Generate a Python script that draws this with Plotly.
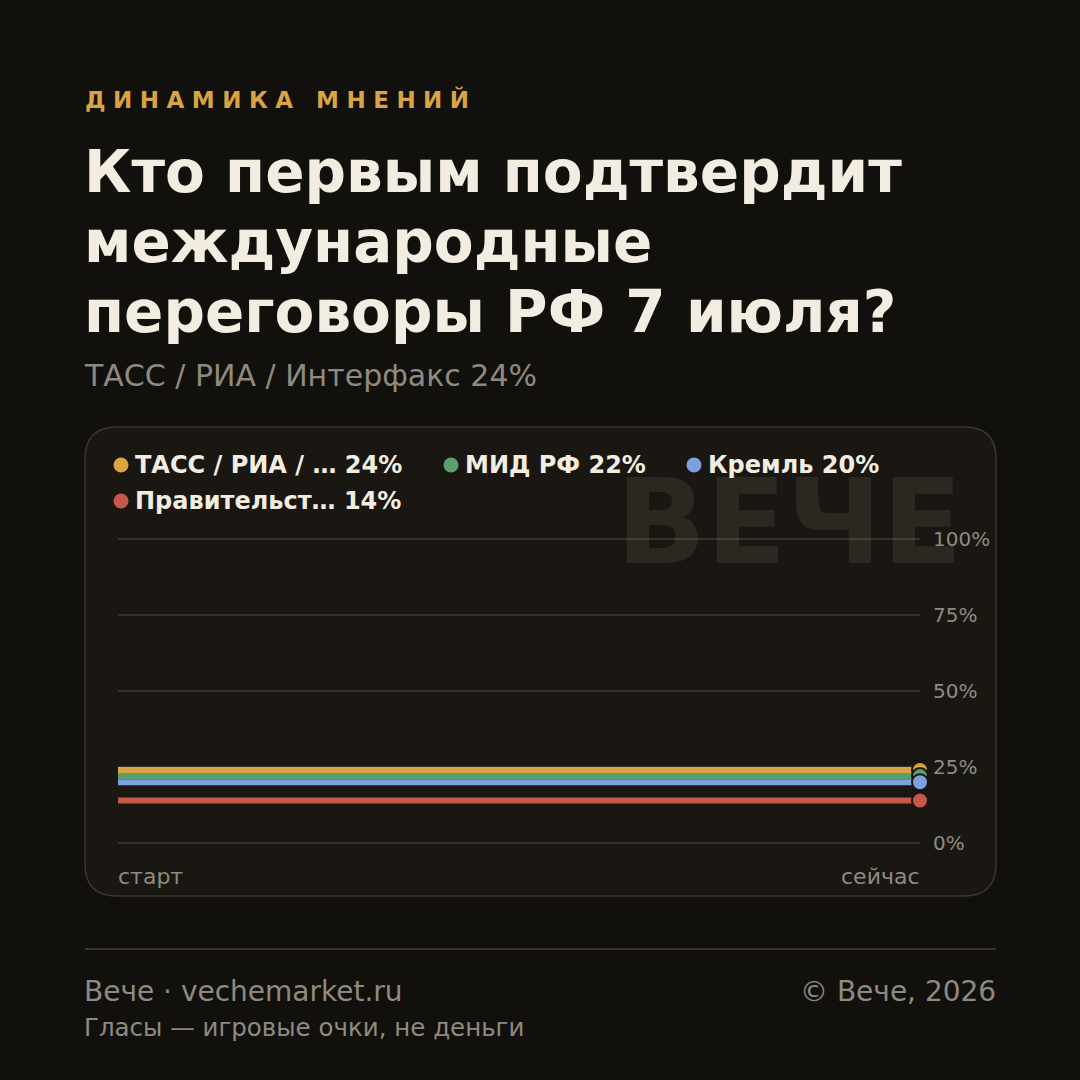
import plotly.graph_objects as go

# ---- data ----
series_names = ["ТАСС / РИА / Интерфакс", "МИД РФ", "Кремль", "Правительство"]
legend_labels = ["ТАСС / РИА / … 24%", "МИД РФ 22%", "Кремль 20%", "Правительст… 14%"]
series_values = [24, 22, 20, 14]
series_colors = ["#d9a441", "#5b9f6e", "#7da0e0", "#c6574b"]
x_points = [0, 1]
x_labels = ["старт", "сейчас"]
y_ticks = [0, 25, 50, 75, 100]
y_ticktext = ["0%", "25%", "50%", "75%", "100%"]

W = H = 1080
BG = "#12100d"
CARD = "#1a1713"
CARD_BORDER = "#3a352d"
GRID = "#36322b"
MUTED = "#8f8a80"
TEXT = "#f2ede0"
FONT = "DejaVu Sans"

def px(x):
    return x / W

def py(y):
    return 1 - y / H

fig = go.Figure()

for name, v, c in zip(series_names, series_values, series_colors):
    fig.add_trace(go.Scatter(
        x=x_points, y=[v] * len(x_points), mode="lines", name=name,
        line=dict(color=c, width=6), cliponaxis=False, showlegend=False,
        hoverinfo="skip"))
    fig.add_trace(go.Scatter(
        x=[x_points[-1]], y=[v], mode="markers", name=name,
        marker=dict(color=c, size=16, line=dict(color=CARD, width=2)),
        cliponaxis=False, showlegend=False))

# card with rounded corners
x0, x1, y0, y1, r = 85, 996, 427, 896, 32
path = (f"M {px(x0+r)},{py(y0)} L {px(x1-r)},{py(y0)} Q {px(x1)},{py(y0)} {px(x1)},{py(y0+r)} "
        f"L {px(x1)},{py(y1-r)} Q {px(x1)},{py(y1)} {px(x1-r)},{py(y1)} "
        f"L {px(x0+r)},{py(y1)} Q {px(x0)},{py(y1)} {px(x0)},{py(y1-r)} "
        f"L {px(x0)},{py(y0+r)} Q {px(x0)},{py(y0)} {px(x0+r)},{py(y0)} Z")
shapes = [dict(type="path", xref="paper", yref="paper", path=path,
               fillcolor=CARD, line=dict(color=CARD_BORDER, width=1.5), layer="below"),
          dict(type="line", xref="paper", yref="paper", x0=px(85), x1=px(996),
               y0=py(949), y1=py(949), line=dict(color="#38342d", width=2))]

# legend dots
legend_pos = [(121, 465), (451, 465), (694, 465), (121, 501)]
dr = 7.5
for (lx, ly), c in zip(legend_pos, series_colors):
    shapes.append(dict(type="circle", xref="paper", yref="paper",
                       x0=px(lx - dr), x1=px(lx + dr), y0=py(ly + dr), y1=py(ly - dr),
                       fillcolor=c, line=dict(width=0)))

annotations = []
def ann(text, x, y, size, color, xanchor="left", bold=False, yanchor="middle"):
    annotations.append(dict(
        text=f"<b>{text}</b>" if bold else text, x=px(x), y=py(y), xref="paper", yref="paper",
        xanchor=xanchor, yanchor=yanchor, showarrow=False,
        font=dict(family=FONT, size=size, color=color)))

# watermark
annotations.append(dict(text="<b>ВЕЧЕ</b>", x=px(965), y=py(522), xref="paper", yref="paper",
                        xanchor="right", yanchor="middle", showarrow=False,
                        font=dict(family=FONT, size=118, color="rgba(255,240,215,0.075)")))

annotations.append(dict(
    text='<span style="letter-spacing:7.5px"><b>ДИНАМИКА МНЕНИЙ</b></span>',
    x=px(83), y=py(100), xref="paper", yref="paper", xanchor="left", yanchor="middle",
    showarrow=False, font=dict(family=FONT, size=23, color="#d9a441")))
ann("Кто первым подтвердит", 82, 172, 58, TEXT, bold=True)
ann("международные", 82, 242, 58, TEXT, bold=True)
ann("переговоры РФ 7 июля?", 82, 312, 58, TEXT, bold=True)
ann("ТАСС / РИА / Интерфакс 24%", 82, 376, 30, MUTED)

for (lx, ly), t in zip(legend_pos, legend_labels):
    ann(t, lx + 12, ly, 24, TEXT, bold=True)

ann(x_labels[0], 116, 876, 22, MUTED)
ann(x_labels[1], 922, 876, 22, MUTED, xanchor="right")

ann("Вече · vechemarket.ru", 82, 991, 28, MUTED)
ann("© Вече, 2026", 998, 991, 28, MUTED, xanchor="right")
ann("Гласы — игровые очки, не деньги", 82, 1027, 24.5, MUTED)

# y scale: 0% at pixel 843, 100% at pixel 539; pad range slightly so edge gridlines are drawn
pad = 1.0
ppu = (843 - 539) / 100.0
fig.update_layout(
    width=W, height=H, margin=dict(l=0, r=0, t=0, b=0, pad=0, autoexpand=False),
    paper_bgcolor=BG, plot_bgcolor="rgba(0,0,0,0)",
    shapes=shapes, annotations=annotations, showlegend=False,
    font=dict(family=FONT),
    xaxis=dict(domain=[px(118), px(920)], range=[0, 1], showgrid=False, zeroline=False,
               showticklabels=False, ticks="", fixedrange=True, automargin=False),
    yaxis=dict(domain=[py(843 + pad * ppu), py(539 - pad * ppu)], range=[-pad, 100 + pad],
               side="right",
               tickvals=y_ticks, ticktext=y_ticktext, showgrid=True, gridcolor=GRID,
               gridwidth=2, zeroline=False, ticks="", ticklabelstandoff=12,
               tickfont=dict(family=FONT, size=20, color=MUTED), fixedrange=True,
               automargin=False),
)

fig.write_html("out.html")
